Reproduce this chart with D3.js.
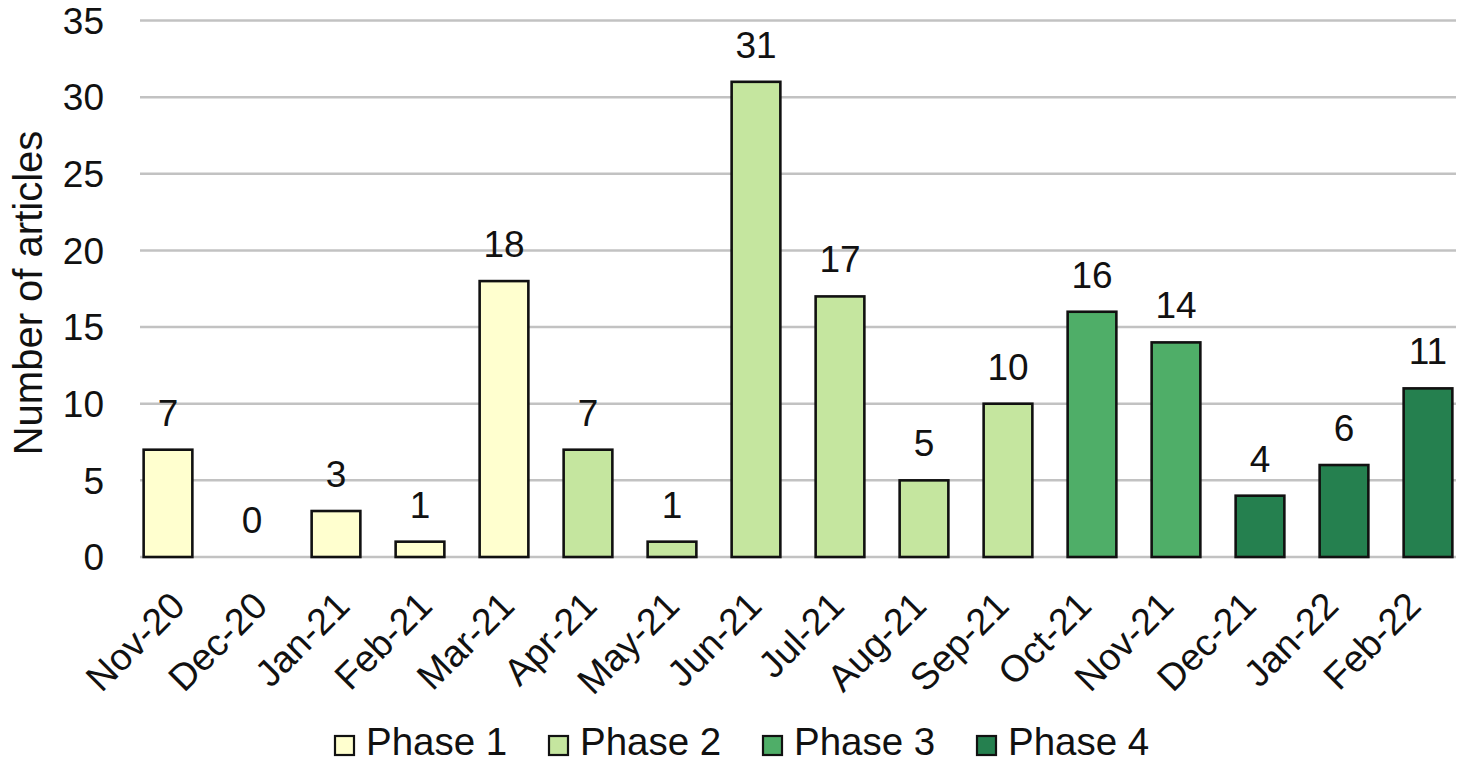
<!DOCTYPE html>
<html>
<head>
<meta charset="utf-8">
<script src="https://cdn.jsdelivr.net/npm/d3@7/dist/d3.min.js"></script>
<style>
  html, body { margin: 0; padding: 0; background: #fff; }
  svg { display: block; font-family: Arial, "Liberation Sans", sans-serif; }
</style>
</head>
<body>
<svg id="chart" width="1464" height="764"></svg>
<script>
const categories = ["Nov-20","Dec-20","Jan-21","Feb-21","Mar-21","Apr-21","May-21","Jun-21","Jul-21","Aug-21","Sep-21","Oct-21","Nov-21","Dec-21","Jan-22","Feb-22"];
const values = [7,0,3,1,18,7,1,31,17,5,10,16,14,4,6,11];
const phases = ["Phase 1","Phase 1","Phase 1","Phase 1","Phase 1","Phase 2","Phase 2","Phase 2","Phase 2","Phase 2","Phase 2","Phase 3","Phase 3","Phase 4","Phase 4","Phase 4"];
const phaseNames = ["Phase 1","Phase 2","Phase 3","Phase 4"];
const phaseColors = ["#ffffcf","#c5e69f","#4fae68","#25804f"];
const yTicks = [0,5,10,15,20,25,30,35];
const yTitle = "Number of articles";

const svg = d3.select("#chart");
const color = d3.scaleOrdinal().domain(phaseNames).range(phaseColors);

const plotLeft = 140, plotRight = 1456;
const x = d3.scaleBand().domain(categories).range([126, 1470]).paddingInner(0.42).paddingOuter(0.21);
const xLab = d3.scalePoint().domain(categories).range([187, 1423]);
const y = d3.scaleLinear().domain([0, 35]).range([557, 20.5]);

// gridlines
svg.append("g").selectAll("line").data(yTicks).join("line")
  .attr("x1", plotLeft).attr("x2", plotRight)
  .attr("y1", d => y(d)).attr("y2", d => y(d))
  .attr("stroke", "#c2c2c2").attr("stroke-width", 2.5);

// y tick labels
svg.append("g").selectAll("text").data(yTicks).join("text")
  .attr("x", 104).attr("y", d => y(d)).attr("dy", "0.36em")
  .attr("text-anchor", "end").attr("font-size", 37).attr("fill", "#111")
  .text(d => d);

// y title
svg.append("text")
  .attr("transform", "translate(42,293) rotate(-90)")
  .attr("text-anchor", "middle").attr("font-size", 40).attr("fill", "#111")
  .text(yTitle);

// bars
svg.append("g").selectAll("rect").data(categories).join("rect")
  .attr("x", d => x(d)).attr("width", x.bandwidth())
  .attr("y", (d,i) => y(values[i])).attr("height", (d,i) => y(0) - y(values[i]))
  .attr("fill", (d,i) => color(phases[i]))
  .attr("stroke", (d,i) => values[i] > 0 ? "#111" : "none").attr("stroke-width", 2.6);

// data labels
svg.append("g").selectAll("text").data(categories).join("text")
  .attr("x", d => x(d) + x.bandwidth()/2).attr("y", (d,i) => y(values[i]) - 24)
  .attr("text-anchor", "middle").attr("font-size", 37).attr("fill", "#111")
  .text((d,i) => values[i]);

// x labels
svg.append("g").selectAll("text").data(categories).join("text")
  .attr("transform", d => `translate(${xLab(d)},608) rotate(-45)`)
  .attr("text-anchor", "end").attr("font-size", 37.5).attr("fill", "#111")
  .text(d => d);

// legend
const leg = svg.append("g").selectAll("g").data(phaseNames).join("g")
  .attr("transform", (d,i) => `translate(${335 + i*214},736)`);
leg.append("rect").attr("width", 19).attr("height", 19)
  .attr("fill", d => color(d)).attr("stroke", "#111").attr("stroke-width", 2.2);
leg.append("text").attr("x", 31).attr("y", 19)
  .attr("font-size", 38.5).attr("fill", "#111").text(d => d);
</script>
</body>
</html>
